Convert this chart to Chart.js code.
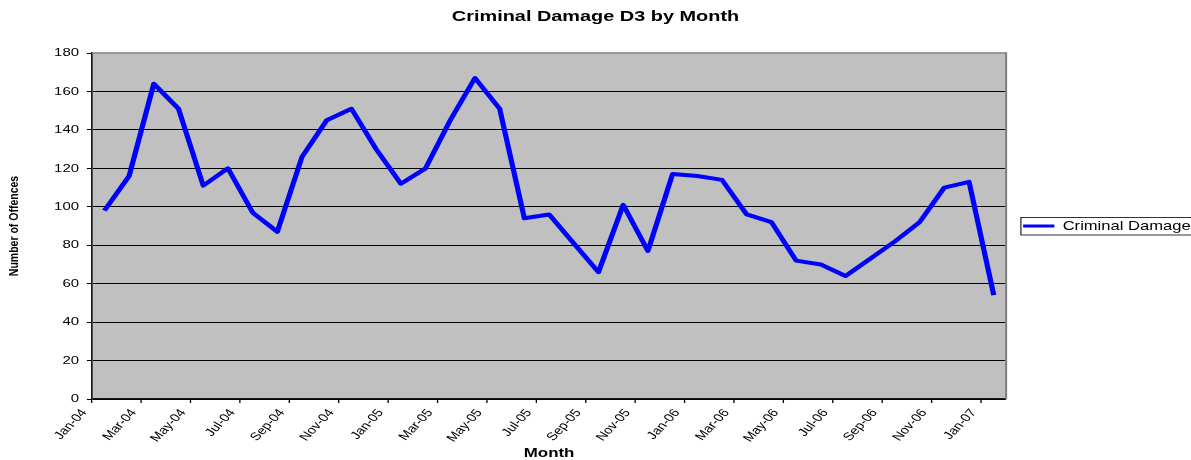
<!DOCTYPE html>
<html><head><meta charset="utf-8">
<script src="https://cdn.jsdelivr.net/npm/chart.js@4.4.1/dist/chart.umd.min.js"></script>
<style>html,body{margin:0;padding:0;background:#fff;overflow:hidden}canvas{display:block}</style>
</head><body>
<canvas id="c" width="916" height="460"></canvas>
<script>
// ---- data ----
const months = ['Jan-04','Feb-04','Mar-04','Apr-04','May-04','Jun-04','Jul-04','Aug-04','Sep-04','Oct-04','Nov-04','Dec-04',
                'Jan-05','Feb-05','Mar-05','Apr-05','May-05','Jun-05','Jul-05','Aug-05','Sep-05','Oct-05','Nov-05','Dec-05',
                'Jan-06','Feb-06','Mar-06','Apr-06','May-06','Jun-06','Jul-06','Aug-06','Sep-06','Oct-06','Nov-06','Dec-06',
                'Jan-07'];
const criminalDamage = [98,116,164,151,111,120,97,87,126,145,151,130,
                        112,120,145,167,151,94,96,81,66,101,77,117,
                        116,114,96,92,72,70,64,73,82,92,110,113,
                        54];
const yMin = 0, yMax = 180, yStep = 20;
const seriesName = 'Criminal Damage';
const chartTitle = 'Criminal Damage D3 by Month';
const xTitle = 'Month';
const yTitle = 'Number of Offences';

// ---- layout (logical units, stretched horizontally afterwards) ----
const LW = 916, H = 460, S = 1191 / LW;
const FONT = 'Liberation Sans, Arial, sans-serif';
const LEGEND_W = 142.2;

const stretch = {
  id: 'stretch',
  beforeDraw(chart) {
    const ctx = chart.ctx;
    ctx.setTransform(S, 0, 0, 1, 0, 0);
    const a = chart.chartArea;
    ctx.save();
    ctx.fillStyle = '#C0C0C0';
    ctx.fillRect(a.left, a.top, a.right - a.left, a.bottom - a.top);
    ctx.restore();
  },
  afterDraw(chart) {
    const ctx = chart.ctx;
    const a = chart.chartArea;
    ctx.save();
    ctx.strokeStyle = '#808080';
    ctx.lineWidth = 1.6;
    ctx.beginPath();
    ctx.moveTo(a.left, a.top);
    ctx.lineTo(a.right, a.top);
    ctx.lineTo(a.right, a.bottom);
    ctx.stroke();
    // legend frame
    const hb = chart.legend.legendHitBoxes[0];
    if (hb) {
      const cy = hb.top + hb.height / 2;
      ctx.strokeStyle = '#000';
      ctx.lineWidth = 0.8;
      ctx.strokeRect(hb.left - 1.7, cy - 8.5, 200, 17.5);
    }
    ctx.restore();
  }
};

const config = {
  type: 'line',
  data: {
    labels: months,
    datasets: [{
      label: seriesName,
      data: criminalDamage,
      borderColor: '#0000FF',
      backgroundColor: '#0000FF',
      borderWidth: 4,
      pointRadius: 0,
      pointHoverRadius: 0,
      tension: 0,
      fill: false,
      borderJoinStyle: 'round',
      borderCapStyle: 'butt'
    }]
  },
  options: {
    responsive: false,
    animation: false,
    devicePixelRatio: 1,
    events: [],
    layout: { padding: 0 },
    plugins: {
      title: {
        display: true,
        text: chartTitle,
        color: '#000',
        font: { family: FONT, size: 15.3, weight: 'bold', lineHeight: 1.2 },
        padding: { top: 7.3, bottom: 27.34 }
      },
      legend: {
        display: true,
        position: 'right',
        fullSize: false,
        align: 'center',
        labels: {
          color: '#000',
          font: { family: FONT, size: 12.75 },
          usePointStyle: true,
          pointStyle: 'line',
          pointStyleWidth: 24,
          padding: 13.1,
          generateLabels(chart) {
            const items = Chart.defaults.plugins.legend.labels.generateLabels(chart);
            items.forEach(it => { it.lineWidth = 3; it.strokeStyle = '#0000FF'; it.pointStyle = 'line'; });
            return items;
          }
        }
      },
      tooltip: { enabled: false }
    },
    scales: {
      x: {
        type: 'category',
        offset: true,
        afterFit(scale) { scale.height = 61; },
        grid: {
          offset: true,
          drawOnChartArea: false,
          drawTicks: true,
          tickLength: 4,
          lineWidth: 1,
          color: c => (c.index % 2 === 0 ? '#000' : 'rgba(0,0,0,0)')
        },
        border: { display: true, color: '#1a1a1a', width: 1.3 },
        ticks: {
          autoSkip: false,
          minRotation: 53,
          maxRotation: 53,
          labelOffset: -15.5,
          padding: 3.7,
          color: '#000',
          font: { family: FONT, size: 11.2 },
          callback(value, index) { return index % 2 === 0 ? months[index] : ''; }
        },
        title: {
          display: true,
          text: xTitle,
          color: '#000',
          font: { family: FONT, size: 13, weight: 'bold', lineHeight: 1.0 },
          padding: { top: 0, bottom: 0 }
        }
      },
      y: {
        min: yMin,
        max: yMax,
        afterFit(scale) { scale.width = 70.8; },
        grid: {
          drawOnChartArea: true,
          drawTicks: true,
          tickLength: 4,
          lineWidth: 1,
          color: c => (c.tick && c.tick.value === yMax ? 'rgba(0,0,0,0)' : '#000'),
          tickColor: '#000'
        },
        border: { display: true, color: '#1a1a1a', width: 1.3 },
        ticks: {
          stepSize: yStep,
          padding: 6,
          color: '#000',
          font: { family: FONT, size: 11.5 }
        },
        title: {
          display: true,
          text: yTitle,
          color: '#000',
          font: { family: FONT, size: 10.5, weight: 'bold', lineHeight: 1.2 },
          padding: { top: 5, bottom: 0 }
        }
      }
    }
  },
  plugins: [stretch]
};

const canvas = document.getElementById('c');
const chart = new Chart(canvas, config);
const origFit = chart.legend.fit;
chart.legend.fit = function () { origFit.call(this); if (this.options.display) this.width = LEGEND_W; };
chart.update();
canvas.width = 1191;
canvas.height = H;
canvas.style.width = '1191px';
canvas.style.height = H + 'px';
chart.draw();
</script>
</body></html>
